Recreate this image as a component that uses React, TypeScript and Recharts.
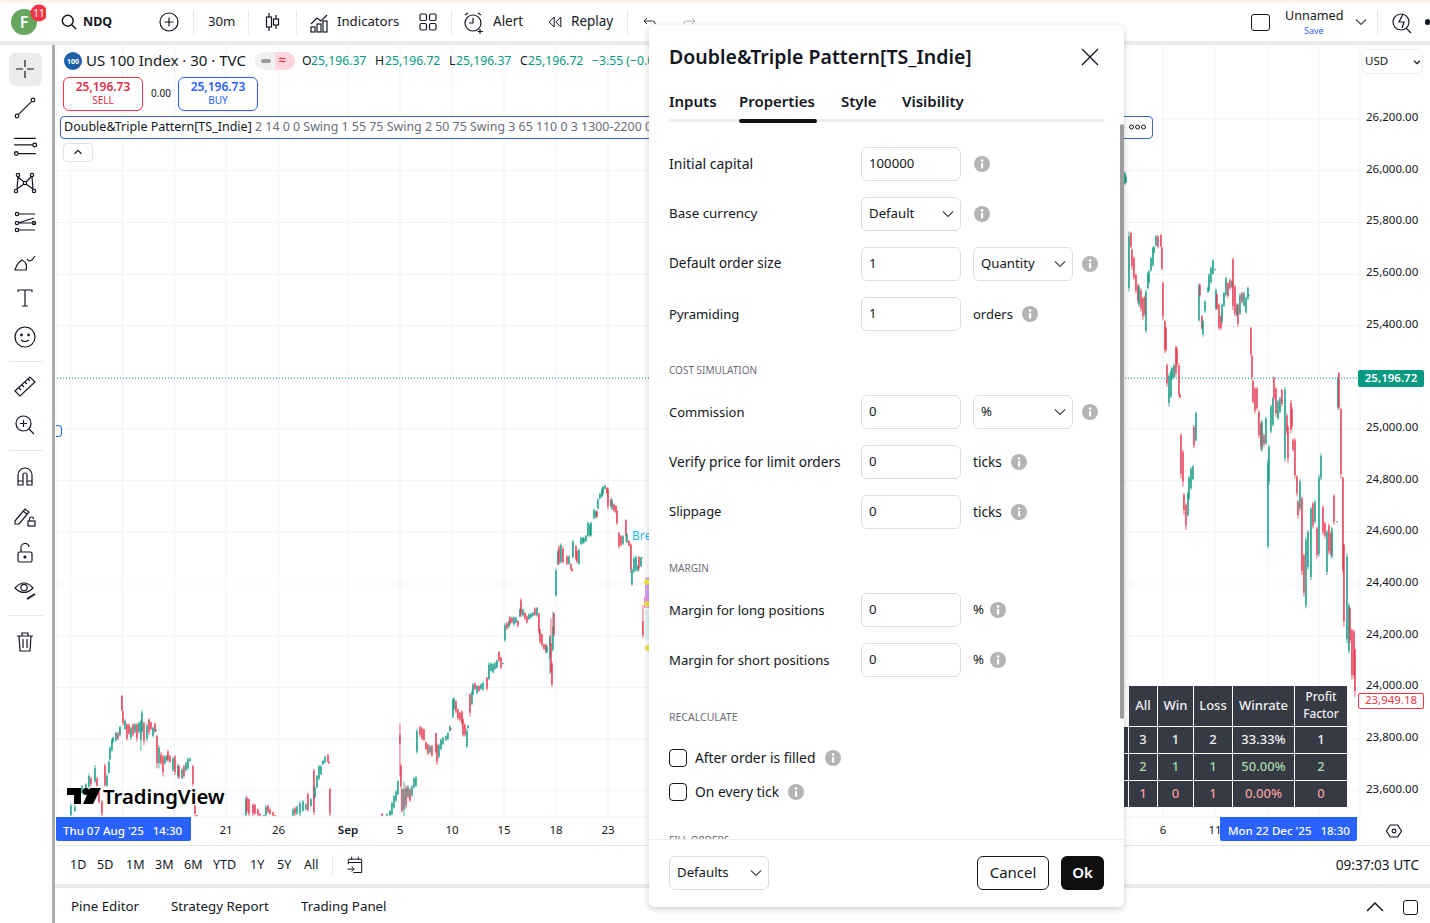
import React from "react";
import {
  ComposedChart,
  Bar,
  XAxis,
  YAxis,
  CartesianGrid,
  ReferenceLine,
  ReferenceArea,
  ReferenceDot,
} from "recharts";

const FONT = '"Noto Sans", sans-serif';
const INK = "#131722";
const UP = "#089981";
const DOWN = "#E8304A";
const BLUE = "#2962FF";

const augustBars = [
  [15,23500,23544,23495,23535],[19,23515,23538,23512,23530],[26,23585,23615,23583,23610],[30,23598,23622,23596,23618],
  [33,23610,23660,23602,23650],[35,23640,23648,23611,23618],[39,23630,23693,23622,23680],[41,23640,23648,23609,23612],
  [43,23585,23590,23544,23550],[46,23550,23557,23495,23505],[49,23690,23699,23609,23615],[51,23612,23660,23609,23650],
  [53,23662,23712,23660,23705],[54,23715,23764,23712,23760],[56,23750,23796,23744,23790],[57,23782,23803,23777,23798],
  [60,23788,23822,23783,23818],[62,23815,23822,23790,23795],[64,23808,23844,23803,23840],[66,23960,23964,23899,23905],
  [67,23900,23906,23848,23855],[69,23832,23870,23828,23865],[71,23850,23854,23787,23795],[73,23848,23854,23809,23815],
  [75,23800,23841,23790,23835],[77,23850,23854,23803,23810],[79,23820,23854,23815,23850],[81,23850,23854,23783,23795],
  [83,23820,23861,23815,23855],[85,23790,23867,23748,23860],[86,23825,23906,23815,23895],[88,23855,23861,23770,23785],
  [91,23795,23854,23783,23845],[93,23868,23874,23809,23820],[95,23858,23861,23828,23832],[97,23805,23841,23800,23836],
  [99,23852,23857,23818,23822],[100,23824,23831,23822,23830],[101,23805,23809,23680,23700],[103,23700,23770,23680,23760],
  [105,23735,23744,23693,23700],[107,23725,23732,23648,23665],[109,23700,23732,23693,23725],[111,23712,23732,23706,23728],
  [112,23745,23751,23706,23712],[114,23728,23732,23699,23705],[117,23672,23725,23667,23718],[119,23725,23732,23654,23665],
  [122,23650,23699,23641,23690],[123,23688,23693,23637,23645],[126,23642,23680,23637,23675],[128,23688,23693,23641,23650],
  [130,23672,23706,23667,23700],[132,23680,23722,23673,23715],[134,23708,23722,23706,23718],[137,23688,23693,23611,23620],
  [139,23535,23538,23495,23505],[141,23498,23499,23495,23496],
];

const lateAugustBars = [
  [190,23500,23570,23495,23560],[191,23565,23573,23506,23515],[193,23560,23564,23495,23505],[197,23540,23544,23495,23505],
  [199,23538,23542,23499,23505],[202,23520,23525,23495,23500],[204,23504,23506,23495,23497],[208,23496,23499,23495,23498],
  [210,23498,23538,23495,23530],[212,23535,23538,23506,23512],[214,23520,23525,23499,23505],[217,23510,23512,23495,23498],
  [219,23498,23499,23495,23496],[237,23497,23525,23495,23520],[239,23525,23531,23495,23505],[241,23505,23538,23499,23530],
  [244,23505,23551,23495,23545],[247,23516,23557,23512,23552],[250,23520,23544,23518,23540],[252,23580,23586,23512,23520],
  [255,23535,23564,23531,23560],[258,23670,23677,23499,23510],[259,23568,23609,23564,23604],[261,23606,23654,23602,23650],
  [263,23640,23693,23635,23688],[265,23658,23693,23654,23686],[267,23695,23712,23693,23708],[269,23702,23728,23699,23724],
  [272,23732,23735,23702,23706],[273,23705,23706,23697,23699],[274,23600,23605,23495,23505],
];

const septemberBars = [
  [326,23505,23505,23495,23497],[331,23497,23505,23495,23503],[334,23497,23518,23495,23515],[336,23502,23550,23499,23545],
  [338,23528,23576,23524,23572],[340,23555,23595,23550,23590],[342,23580,23634,23576,23630],[344,23810,23854,23650,23775],
  [345,23690,23698,23602,23610],[346,23600,23602,23508,23515],[348,23520,23628,23495,23600],[350,23605,23615,23524,23535],
  [352,23568,23615,23563,23608],[354,23598,23602,23550,23555],[356,23575,23615,23570,23610],[358,23606,23647,23602,23640],
  [360,23612,23650,23608,23645],[361,23745,23834,23737,23825],[364,23838,23845,23802,23810],[366,23835,23841,23789,23795],
  [368,23830,23834,23783,23790],[370,23780,23783,23750,23755],[372,23772,23776,23731,23738],[374,23742,23770,23737,23765],
  [376,23765,23770,23724,23730],[380,23815,23819,23737,23745],[381,23770,23776,23692,23705],[383,23725,23776,23718,23768],
  [385,23755,23795,23750,23790],[387,23775,23802,23770,23798],[390,23790,23808,23786,23805],[392,23794,23821,23789,23816],
  [394,23825,23847,23821,23842],[395,23835,23836,23833,23834],[397,23880,23950,23873,23945],[398,23910,23957,23905,23950],
  [400,23940,23944,23892,23900],[402,23908,23912,23866,23875],[404,23895,23899,23860,23868],[406,23900,23905,23847,23855],
  [407,23870,23873,23802,23810],[409,23848,23854,23802,23810],[411,23765,23834,23757,23825],[412,23836,23847,23834,23845],
  [414,23965,23970,23880,23895],[416,23930,23980,23925,23975],[417,23968,24011,23963,24005],[419,24008,24012,23983,23988],
  [421,23972,24002,23967,23998],[423,23998,24002,23976,23980],[425,23988,24008,23983,24004],[427,23985,24015,23980,24010],
  [431,24030,24034,23980,23988],[433,24026,24090,24021,24082],[435,24058,24090,24054,24085],[437,24052,24086,24047,24082],
  [439,24065,24092,24060,24088],[441,24070,24101,24067,24097],[443,24130,24134,24092,24098],[445,24108,24112,24063,24070],
  [447,24086,24088,24084,24087],
];

const midSeptemberBars = [
  [449,24175,24243,24170,24235],[451,24240,24247,24215,24222],[453,24228,24254,24222,24248],[454,24265,24269,24234,24240],
  [456,24262,24267,24241,24246],[458,24238,24269,24231,24264],[460,24245,24267,24241,24262],[462,24250,24254,24225,24232],
  [464,24268,24299,24264,24295],[465,24330,24338,24267,24275],[467,24272,24299,24267,24295],[469,24282,24286,24254,24260],
  [471,24268,24273,24241,24246],[473,24258,24280,24254,24275],[475,24264,24282,24260,24278],[477,24270,24286,24267,24282],
  [479,24298,24303,24269,24275],[481,24272,24305,24267,24300],[483,24278,24283,24202,24210],[484,24218,24221,24163,24170],
  [486,24198,24202,24150,24158],[488,24160,24163,24138,24142],[490,24158,24163,24125,24132],[491,24130,24157,24125,24150],
  [494,24105,24196,24047,24190],[495,24165,24260,24047,24055],[496,24085,24092,23996,24005],[497,24140,24286,24131,24230],
  [498,24278,24283,24189,24200],[500,24350,24454,24344,24445],[502,24470,24525,24467,24520],[503,24535,24544,24467,24475],
  [505,24478,24551,24473,24545],[507,24530,24538,24473,24480],[511,24500,24505,24467,24472],[513,24472,24505,24467,24500],
  [515,24470,24473,24447,24452],[516,24452,24454,24441,24444],[517,24498,24564,24493,24558],[520,24540,24544,24486,24492],
  [521,24520,24525,24473,24480],[523,24472,24531,24467,24525],[525,24548,24577,24544,24572],[527,24552,24577,24548,24572],
  [528,24555,24574,24551,24570],[530,24560,24583,24557,24580],[532,24580,24635,24574,24630],[534,24582,24628,24577,24622],
  [535,24582,24635,24577,24630],[538,24648,24686,24644,24680],[540,24652,24680,24648,24675],[541,24674,24677,24651,24655],
  [542,24686,24725,24682,24720],[544,24724,24747,24721,24744],[546,24732,24764,24729,24760],[547,24742,24773,24738,24770],
  [549,24762,24777,24760,24775],[551,24765,24768,24742,24745],[552,24760,24768,24682,24695],[555,24720,24725,24690,24695],
  [556,24685,24725,24680,24718],[558,24702,24706,24673,24678],[560,24696,24699,24667,24672],[561,24676,24680,24622,24630],
  [563,24590,24596,24531,24540],[565,24578,24583,24538,24545],[567,24550,24583,24544,24578],[570,24640,24644,24557,24580],
  [571,24555,24589,24551,24585],[573,24560,24564,24538,24542],[575,24546,24551,24435,24450],[576,24392,24454,24387,24448],
  [578,24442,24499,24435,24492],[580,24448,24503,24441,24498],[582,24445,24467,24441,24463],[583,24498,24502,24447,24455],
  [585,24462,24499,24458,24495],[586,24496,24498,24495,24497],[587,24250,24312,24183,24195],
];

const novemberBars = [
  [1069,25945,25990,25938,25985],[1070,25950,25977,25945,25970],[1073,25540,25758,25526,25740],[1075,25752,25758,25693,25700],
  [1076,25688,25693,25609,25625],[1078,25655,25661,25571,25580],[1080,25590,25596,25519,25530],[1082,25550,25557,25480,25490],
  [1083,25475,25551,25467,25545],[1085,25530,25538,25448,25460],[1087,25500,25506,25416,25430],[1089,25505,25512,25429,25440],
  [1090,25375,25532,25364,25525],[1092,25540,25603,25532,25595],[1093,25562,25609,25557,25604],[1095,25608,25661,25603,25655],
  [1097,25628,25700,25622,25694],[1098,25678,25702,25674,25698],[1100,25705,25745,25700,25740],[1102,25740,25745,25693,25700],
  [1105,25745,25749,25697,25702],[1106,25696,25700,25609,25615],[1107,25560,25564,25416,25430],[1109,25410,25416,25287,25300],
  [1110,25385,25390,25293,25300],[1111,25240,25248,25157,25170],[1113,25095,25209,25080,25200],[1115,25120,25222,25112,25215],
  [1116,25190,25235,25183,25230],[1118,25195,25248,25190,25240],[1120,25310,25315,25196,25210],[1121,25305,25312,25235,25245],
  [1123,25240,25248,25119,25130],[1124,25128,25132,25112,25116],[1125,24970,24977,24803,24820],[1127,24905,24912,24770,24790],
  [1128,24740,24745,24661,24680],[1130,24700,24706,24603,24620],[1132,24660,24751,24654,24745],[1133,24725,24812,24719,24805],
  [1135,24765,24848,24757,24840],[1137,24800,24854,24796,24848],[1138,25000,25009,24919,24930],[1140,24950,25061,24945,25055],
];

const decemberBars = [
  [1143,25415,25557,25409,25550],[1144,25550,25557,25506,25512],[1146,25430,25435,25377,25385],[1147,25360,25416,25351,25410],
  [1149,25450,25493,25442,25486],[1152,25525,25545,25521,25540],[1153,25530,25597,25526,25590],[1155,25562,25622,25557,25616],
  [1157,25595,25652,25590,25646],[1159,25612,25614,25610,25613],[1160,25460,25538,25454,25530],[1161,25515,25519,25454,25460],
  [1163,25475,25480,25377,25385],[1165,25430,25435,25377,25385],[1166,25410,25480,25403,25475],[1168,25472,25525,25467,25520],
  [1170,25512,25583,25506,25578],[1172,25558,25564,25500,25510],[1174,25570,25577,25532,25540],[1176,25543,25571,25538,25566],
  [1177,25650,25658,25454,25470],[1179,25545,25551,25429,25440],[1181,25434,25480,25429,25475],[1182,25475,25480,25390,25400],
  [1184,25440,25519,25435,25512],[1186,25520,25525,25480,25486],[1188,25472,25525,25467,25518],[1190,25446,25506,25441,25500],
  [1192,25498,25545,25493,25540],[1193,25512,25514,25510,25513],[1195,25385,25390,25274,25285],[1196,25275,25280,25183,25195],
  [1197,25180,25183,25093,25100],[1199,25150,25157,25054,25065],[1201,25150,25157,25067,25075],[1203,25060,25067,24958,24970],
  [1205,25015,25022,24912,24925],[1206,24915,25029,24906,25020],[1208,24970,24977,24925,24935],[1210,24938,25041,24932,25035],
  [1212,24540,24876,24531,24865],[1213,24790,24932,24777,24925],[1215,24985,25087,24977,25080],[1217,25010,25119,25003,25112],
  [1218,25190,25196,25106,25115],[1220,25150,25157,25041,25055],[1222,25035,25106,25029,25100],[1224,25060,25119,25054,25112],
  [1226,25145,25151,25080,25090],[1229,24880,25157,24867,25145],[1231,25045,25054,24970,24985],[1232,25000,25009,24861,24880],
  [1235,25095,25106,24977,24990],[1236,25070,25080,24996,25005],[1237,24950,24958,24906,24915],[1239,24950,24958,24803,24815],
  [1241,24810,24815,24732,24745],[1242,24712,24719,24648,24660],[1244,24685,24799,24674,24790],[1246,24725,24732,24428,24445],
  [1248,24505,24512,24344,24360],[1250,24310,24577,24299,24565],[1252,24460,24603,24448,24595],[1255,24420,24693,24409,24685],
  [1257,24705,24712,24609,24620],[1259,24635,24719,24628,24710],[1261,24608,24615,24493,24505],[1263,24510,24816,24499,24805],
  [1265,24805,24899,24796,24890],[1267,24690,24699,24583,24595],[1269,24628,24635,24570,24580],[1271,24440,24603,24428,24595],
  [1273,24620,24628,24506,24520],[1275,24590,24596,24499,24510],[1276,24500,24615,24493,24608],[1278,24735,24741,24622,24635],
  [1281,24635,24637,24633,24636],[1282,25080,25196,25069,25190],[1283,25210,25215,25067,25075],[1285,25070,25074,24803,24820],
  [1287,24805,24809,24435,24450],[1288,24545,24551,24228,24250],[1291,24180,24512,24164,24500],[1293,24135,24319,24125,24310],
  [1294,24300,24306,24164,24175],[1296,24215,24222,24022,24040],[1298,24210,24215,24028,24040],[1299,24140,24144,23957,23980],
];

// readings were taken against the label centres, which sit a little above their gridlines
const READING_SHIFT = 6.6;

const priceTicks = [26200, 26000, 25800, 25600, 25400, 25200, 25000, 24800, 24600, 24400, 24200, 24000, 23800, 23600];
const priceTickLabels = ["26,200.00", "26,000.00", "25,800.00", "25,600.00", "25,400.00", "", "25,000.00", "24,800.00", "24,600.00", "24,400.00", "24,200.00", "24,000.00", "23,800.00", "23,600.00"];
const timeTickBars = [14.5, 66.5, 118.5, 170, 222.5, 292, 344, 396, 448, 500, 552, 1107, 1159, 1212, 1263];
const timeTickLabels = ["", "", "", "21", "26", "Sep", "5", "10", "15", "18", "23", "6", "11", "", ""];
const lastPrice = 25196.72;
const bidPrice = 23949.18;

const statHeaders = ["All", "Win", "Loss", "Winrate", "Profit Factor"];
const statsAll = ["3", "1", "2", "33.33%", "1"];
const statsLong = ["2", "1", "1", "50.00%", "2"];
const statsShort = ["1", "0", "1", "0.00%", "0"];

const rangeLabels = ["1D", "5D", "1M", "3M", "6M", "YTD", "1Y", "5Y", "All"];

const candles = [...augustBars, ...lateAugustBars, ...septemberBars, ...midSeptemberBars, ...novemberBars, ...decemberBars].map(
  ([bar, open, high, low, close]) => ({
    bar,
    open: open + READING_SHIFT,
    high: high + READING_SHIFT,
    low: low + READING_SHIFT,
    close: close + READING_SHIFT,
  })
);

function CandleShape(props: any) {
  const { x, y, width, height, payload } = props;
  const { open, high, low, close } = payload;
  const toY = (v: number) => y + ((high - v) / (high - low)) * height;
  const color = close >= open ? UP : DOWN;
  const cx = x + width / 2;
  const top = Math.min(toY(open), toY(close));
  const bodyH = Math.max(1, Math.abs(toY(open) - toY(close)));
  return (
    <g opacity={0.9}>
      <rect x={cx - 0.4} y={y} width={0.8} height={height} fill={color} />
      <rect x={cx - 0.7} y={top} width={1.4} height={bodyH} fill={color} />
    </g>
  );
}

function PriceTick({ x, y, payload }: any) {
  const i = priceTicks.indexOf(payload.value);
  return (
    <text x={x - 2} y={y + 2} fontFamily={FONT} fontSize={11.5} fill={INK}>
      {priceTickLabels[i]}
    </text>
  );
}

function TimeTick({ x, y, payload }: any) {
  const label = timeTickLabels[timeTickBars.indexOf(payload.value)];
  return (
    <text x={x} y={y + 9} textAnchor="middle" fontFamily={FONT} fontSize={11.5} fontWeight={label === "Sep" ? 600 : 400} fill={INK}>
      {label}
    </text>
  );
}

function PriceChart() {
  return (
    <ComposedChart
      width={1430}
      height={845}
      data={candles}
      margin={{ top: 44, right: 0, bottom: 0, left: 56 }}
      barSize={2}
      style={{ position: "absolute", left: 0, top: 0 }}
    >
      <CartesianGrid stroke="#f0f3fa" />
      <XAxis
        dataKey="bar"
        type="number"
        domain={[0, 1304]}
        ticks={timeTickBars}
        interval={0}
        height={28}
        axisLine={false}
        tickLine={false}
        tick={<TimeTick />}
      />
      <YAxis
        orientation="right"
        domain={[23498, 26491]}
        ticks={priceTicks}
        interval={0}
        width={70}
        allowDataOverflow
        axisLine={false}
        tickLine={false}
        tick={<PriceTick />}
      />
      <ReferenceLine y={lastPrice} stroke={UP} strokeWidth={1.2} strokeDasharray="1 2" />
      <Bar dataKey={(d: any) => [d.low, d.high]} shape={<CandleShape />} isAnimationActive={false} />
      <ReferenceArea x1={589} x2={594} y1={24350} y2={24425} fill="#c58af0" fillOpacity={0.8} stroke="none" />
      <ReferenceArea x1={588} x2={594} y1={24308} y2={24350} fill="#d020d8" stroke="none" />
      <ReferenceArea x1={589} x2={594} y1={24185} y2={24300} fill="#bdecef" stroke="none" />
      <ReferenceDot x={591} y={24408} r={3} fill="#f5e14a" stroke="none" />
      <ReferenceDot x={591} y={24323} r={3} fill="#f5e14a" stroke="none" />
      <ReferenceDot x={592} y={24152} r={3} fill="#f5e14a" stroke="none" />
    </ComposedChart>
  );
}

type TextProps = { x: number; y: number; size?: number; color?: string; weight?: number; children: React.ReactNode; right?: boolean; center?: boolean };

// y is the vertical centre of the line
function T({ x, y, size = 13, color = INK, weight = 400, children, right, center }: TextProps) {
  const lineH = Math.round(size * 1.1);
  return (
    <span
      style={{
        position: "absolute",
        left: right || center ? undefined : x,
        right: right ? 1430 - x : undefined,
        ...(center ? { left: x, transform: "translateX(-50%)" } : {}),
        top: Math.floor(y - lineH / 2),
        height: lineH,
        lineHeight: `${lineH}px`,
        fontFamily: FONT,
        fontSize: size,
        fontWeight: weight,
        color,
        whiteSpace: "nowrap",
      }}
    >
      {children}
    </span>
  );
}

function Box({ x, y, w, h, style }: { x: number; y: number; w: number; h: number; style?: React.CSSProperties }) {
  return <div style={{ position: "absolute", left: x, top: y, width: w, height: h, boxSizing: "border-box", ...style }} />;
}

function Icon({ x, y, s = 24, children, stroke = INK }: { x: number; y: number; s?: number; children: React.ReactNode; stroke?: string }) {
  return (
    <svg
      width={s}
      height={s}
      viewBox="0 0 24 24"
      fill="none"
      stroke={stroke}
      strokeWidth={1.2}
      style={{ position: "absolute", left: x - s / 2, top: y - s / 2 }}
    >
      {children}
    </svg>
  );
}

function Chevron({ x, y, color = "#444" }: { x: number; y: number; color?: string }) {
  return (
    <svg width={12} height={8} style={{ position: "absolute", left: x - 6, top: y - 4 }}>
      <path d="M1 1.5 L6 6.5 L11 1.5" fill="none" stroke={color} strokeWidth={1.1} />
    </svg>
  );
}

function Info({ x, y }: { x: number; y: number }) {
  return (
    <svg width={16} height={16} style={{ position: "absolute", left: x - 8, top: y - 8 }}>
      <circle cx={8} cy={8} r={8} fill="#b4b4b6" />
      <rect x={7} y={7} width={2.2} height={5.5} fill="#fff" />
      <circle cx={8.1} cy={4.6} r={1.3} fill="#fff" />
    </svg>
  );
}

function Field({ x, y, w = 100, text, chevron }: { x: number; y: number; w?: number; text: string; chevron?: boolean }) {
  return (
    <>
      <Box x={x} y={y - 17} w={w} h={34} style={{ border: "1px solid #dcdde0", borderRadius: 6, background: "#fff" }} />
      <T x={x + 8} y={y} size={13.2}>{text}</T>
      {chevron && <Chevron x={x + w - 13} y={y} />}
    </>
  );
}

function Vsep({ x, y = 10, h = 24 }: { x: number; y?: number; h?: number }) {
  return <Box x={x} y={y} w={1} h={h} style={{ background: "#e6e7ea" }} />;
}

function TopBar() {
  return (
    <>
      <Box x={0} y={0} w={1430} h={3} style={{ background: "#fdf3e3" }} />
      <svg width={36} height={36} style={{ position: "absolute", left: 10, top: 4 }}>
        <circle cx={14} cy={18} r={13} fill="#66a65e" />
        <text x={14} y={24} textAnchor="middle" fontFamily={FONT} fontSize={16} fontWeight={600} fill="#fff">F</text>
        <circle cx={29} cy={9} r={8.5} fill="#f23645" />
        <text x={29} y={13} textAnchor="middle" fontFamily={FONT} fontSize={10} fill="#fff">11</text>
      </svg>
      <Icon x={69} y={22} s={20}><circle cx={10.5} cy={10.5} r={6.5} strokeWidth={1.8} /><path d="M15 15 L20.5 20.5" strokeWidth={1.8} /></Icon>
      <T x={83} y={22} size={12.5} weight={700}>NDQ</T>
      <Icon x={169} y={22}><circle cx={12} cy={12} r={9} /><path d="M12 7.5V16.5M7.5 12H16.5" /></Icon>
      <Vsep x={193} />
      <T x={208} y={22} size={13.2}>30m</T>
      <Vsep x={248} />
      <Icon x={272} y={22}><path d="M9 3V21M16 5V19" /><rect x={6.5} y={7} width={5} height={10} fill="#fff" /><rect x={13.5} y={9} width={5} height={6} fill="#fff" /></Icon>
      <Vsep x={296} />
      <Icon x={319} y={22}><path d="M4 14L10 8L14 11L20 5" /><rect x={4} y={17} width={4} height={5} /><rect x={10} y={14} width={4} height={8} /><rect x={16} y={11} width={4} height={11} /></Icon>
      <T x={337} y={22} size={13.2}>Indicators</T>
      <Icon x={428} y={22}><rect x={4} y={4} width={6.5} height={6.5} rx={1.5} /><rect x={13.5} y={4} width={6.5} height={6.5} rx={1.5} /><rect x={4} y={13.5} width={6.5} height={6.5} rx={1.5} /><rect x={13.5} y={13.5} width={6.5} height={6.5} rx={1.5} /></Icon>
      <Vsep x={451} />
      <Icon x={474} y={22}><circle cx={11} cy={13} r={8} /><path d="M11 8V13H7M3 5L6 3M16 3L19 5M18 19V24M15.5 21.5H21" /></Icon>
      <T x={493} y={22} size={13.5}>Alert</T>
      <Icon x={555} y={22} s={20}><path d="M11 6L5 12L11 18ZM19 6L13 12L19 18Z" /></Icon>
      <T x={571} y={22} size={13.5}>Replay</T>
      <Vsep x={627} />
      <Icon x={650} y={21} s={18}><path d="M8 8L4 12L8 16M4 12H15Q19 12 19 16" /></Icon>
      <Icon x={689} y={21} s={18} stroke="#aaa"><path d="M16 8L20 12L16 16M20 12H9Q5 12 5 16" /></Icon>
      <Box x={1251} y={14} w={19} h={17} style={{ border: `1.2px solid ${INK}`, borderRadius: 3 }} />
      <T x={1285} y={16} size={12.6}>Unnamed</T>
      <T x={1304} y={31} size={9} color={BLUE}>Save</T>
      <Chevron x={1361} y={22} />
      <Vsep x={1377} />
      <Icon x={1402} y={22}><circle cx={11} cy={12} r={8} /><path d="M13 4L9 12H14L12 18M16 18L21 23" /></Icon>
      <Box x={1425} y={19} w={5} h={6} style={{ background: INK, borderRadius: 3 }} />
      <Box x={0} y={41} w={1430} h={4} style={{ background: "#ebebec" }} />
    </>
  );
}

function LeftBar() {
  return (
    <>
      <Box x={0} y={45} w={52} h={840} style={{ background: "#fff" }} />
      <Box x={52} y={45} w={3} h={878} style={{ background: "#ababad" }} />
      <Box x={9} y={53} w={33} h={33} style={{ background: "#ececed", borderRadius: 6 }} />
      <Icon x={25} y={69}><path d="M12 3V10M12 14V21M3 12H10M14 12H21" /></Icon>
      <Icon x={25} y={108}><circle cx={4} cy={20} r={1.8} /><circle cx={20} cy={4} r={1.8} /><path d="M5.3 18.7L18.7 5.3" /></Icon>
      <Icon x={25} y={146} s={26}><path d="M2 5H22M2 11H19M6 19H22" /><circle cx={21} cy={11} r={1.7} /><circle cx={4} cy={19} r={1.7} /></Icon>
      <Icon x={25} y={183}><circle cx={5} cy={4} r={1.7} /><circle cx={19} cy={4} r={1.7} /><circle cx={3} cy={20} r={1.7} /><circle cx={21} cy={20} r={1.7} /><circle cx={12} cy={12} r={1.7} /><path d="M5 6L11 11M18 6L13 11M4 18L11 13M20 18L13 13M4 18L5 6M20 18L19 6" /></Icon>
      <Icon x={25} y={222}><path d="M5 4H22M5 13H22M5 20H22M5 13L21 8" /><circle cx={4} cy={4} r={1.7} /><circle cx={4} cy={13} r={1.7} /><circle cx={4} cy={20} r={1.7} /><circle cx={21} cy={13} r={1.7} /></Icon>
      <Icon x={25} y={261}><path d="M2 21H13Q15 14 9 11Q4 14 2 21ZM14 10Q17 15 22 7" /></Icon>
      <Icon x={25} y={298}><path d="M5 6V4H19V6M12 4V20M9 20H15" /></Icon>
      <Icon x={25} y={337}><circle cx={12} cy={12} r={10} /><circle cx={8.5} cy={10} r={0.8} /><circle cx={15.5} cy={10} r={0.8} /><path d="M8 15Q12 18 16 15" /></Icon>
      <Box x={9} y={361} w={34} h={1} style={{ background: "#e6e7ea" }} />
      <Icon x={25} y={386}><path d="M2 17L17 3L22 8L7 22ZM6 14L8 16M9 11L11 13M12 8L14 10M15 5L17 7" /></Icon>
      <Icon x={25} y={425}><circle cx={10.5} cy={10.5} r={7.5} /><path d="M16 16L21 21M10.5 7V14M7 10.5H14" /></Icon>
      <Box x={9} y={450} w={34} h={1} style={{ background: "#e6e7ea" }} />
      <Icon x={25} y={476}><path d="M5 21V11A7 7 0 0 1 19 11V21H14V11A2 2 0 0 0 10 11V21ZM5 17H10M14 17H19" /></Icon>
      <Icon x={25} y={516}><path d="M2 17L12 5L16 8L6 20L2 20ZM10 7L14 10" /><rect x={15} y={17} width={7} height={5} /><path d="M16.5 17V15A2 2 0 0 1 20.5 15" /></Icon>
      <Icon x={25} y={553}><rect x={5} y={11} width={14} height={10} rx={1.5} /><path d="M8 11V7A4 4 0 0 1 16 6" /><circle cx={12} cy={16} r={1} fill={INK} /></Icon>
      <Icon x={25} y={590}><path d="M2 10Q11 0 20 10Q11 19 2 10Z" /><circle cx={11} cy={9.5} r={3.2} /><path d="M14 21L22 16" strokeWidth={2} /></Icon>
      <Box x={9} y={615} w={34} h={1} style={{ background: "#e6e7ea" }} />
      <Icon x={25} y={642}><path d="M4 6H20M9 6V3H15V6M6 6L7 21H17L18 6M10 9V18M14 9V18" /></Icon>
    </>
  );
}

function ChartOverlay() {
  return (
    <>
      <svg width={26} height={26} style={{ position: "absolute", left: 60, top: 48 }}>
        <circle cx={13} cy={13} r={9} fill="#1c5fa8" />
        <text x={13} y={15.5} textAnchor="middle" fontFamily={FONT} fontSize={7} fill="#fff" fontWeight={700}>100</text>
      </svg>
      <T x={86} y={61} size={15}>US 100 Index · 30 · TVC</T>
      <Box x={255} y={52} w={40} h={18} style={{ background: "#f0f0f1", borderRadius: 9 }} />
      <Box x={275} y={52} w={20} h={18} style={{ background: "#fbd6de", borderRadius: "0 9px 9px 0" }} />
      <Box x={261} y={59} w={10} h={4} style={{ background: "#9a9ca2", borderRadius: 2 }} />
      <T x={279} y={60} size={12} color="#e0304a" weight={700}>≈</T>
      <T x={302} y={61} size={12.2}>O</T>
      <T x={311} y={61} size={12.2} color={UP}>25,196.37</T>
      <T x={375} y={61} size={12.2}>H</T>
      <T x={385} y={61} size={12.2} color={UP}>25,196.72</T>
      <T x={449} y={61} size={12.2}>L</T>
      <T x={456} y={61} size={12.2} color={UP}>25,196.37</T>
      <T x={520} y={61} size={12.2}>C</T>
      <T x={528} y={61} size={12.2} color={UP}>25,196.72</T>
      <T x={592} y={61} size={12.2} color={UP}>−3.55 (−0.01%)</T>

      <Box x={63} y={77} w={80} h={34} style={{ border: "1px solid #f23645", borderRadius: 6, background: "#fff" }} />
      <T x={103} y={87} size={12} color="#e0304a" weight={600} center>25,196.73</T>
      <T x={103} y={101} size={10} color="#e0304a" center>SELL</T>
      <T x={161} y={94} size={10} center>0.00</T>
      <Box x={178} y={77} w={80} h={34} style={{ border: `1px solid ${BLUE}`, borderRadius: 6, background: "#fff" }} />
      <T x={218} y={87} size={12} color={BLUE} weight={600} center>25,196.73</T>
      <T x={218} y={101} size={10} color={BLUE} center>BUY</T>

      <Box x={60} y={116} w={600} h={23} style={{ border: `1px solid #3a68c8`, borderRadius: 4, background: "#fff" }} />
      <T x={64} y={127} size={12.5}>Double&amp;Triple Pattern[TS_Indie]</T>
      <T x={255} y={127} size={12.4} color="#6a6d78">2 14 0 0 Swing 1 55 75 Swing 2 50 75 Swing 3 65 110 0 3 1300-2200 0</T>
      <Box x={1120} y={116} w={33} h={23} style={{ border: `1px solid #3a68c8`, borderRadius: 4, background: "#fff" }} />
      <svg width={20} height={8} style={{ position: "absolute", left: 1129, top: 123 }}>
        {[2.5, 8.5, 14.5].map((cx) => <circle key={cx} cx={cx} cy={4} r={2} fill="none" stroke={INK} />)}
      </svg>
      <Box x={63} y={143} w={30} h={19} style={{ border: "1px solid #e0e1e4", borderRadius: 4, background: "#fff" }} />
      <Icon x={78} y={152} s={14}><path d="M6 15L12 9L18 15" strokeWidth={2} /></Icon>

      <Box x={56} y={425} w={6} h={12} style={{ border: `1.5px solid ${BLUE}`, borderLeft: "none", borderRadius: "0 4px 4px 0" }} />
      <T x={632} y={536} size={12} color="#29b6f6">Bre</T>

      <svg width={34} height={18} style={{ position: "absolute", left: 67, top: 787 }}>
        <path d="M0 1H14V17H7V8H0ZM23 1H34L26 17H16Z" fill="#000" />
        <circle cx={19} cy={4.5} r={3.6} fill="#000" />
      </svg>
      <T x={103} y={796} size={20.3} weight={600} color="#000">TradingView</T>

      <Box x={1358} y={370} w={66} h={17} style={{ background: UP, borderRadius: 2 }} />
      <T x={1391} y={378} size={11.5} color="#fff" weight={600} center>25,196.72</T>
      <Box x={1358} y={693} w={66} h={16} style={{ background: "#fff", border: "1px solid #f23645", borderRadius: 2 }} />
      <T x={1391} y={700} size={11.5} color="#f23645" center>{bidPrice.toLocaleString("en-US")}</T>

      <Box x={1362} y={49} w={61} h={25} style={{ background: "#fff", border: "1px solid #edeef0", borderRadius: 5 }} />
      <T x={1365} y={61} size={11.5}>USD</T>
      <Icon x={1417} y={62} s={10}><path d="M5 9L12 16L19 9" strokeWidth={3} /></Icon>

      <Box x={56} y={817} w={135} h={24} style={{ background: BLUE, borderRadius: "0 0 2px 2px" }} />
      <T x={63} y={831} size={11.5} color="#fff" weight={500}>Thu 07 Aug '25&nbsp;&nbsp;&nbsp;14:30</T>
      <Box x={1220} y={817} w={137} h={24} style={{ background: BLUE, borderRadius: "0 0 2px 2px" }} />
      <T x={1228} y={831} size={11.5} color="#fff" weight={500}>Mon 22 Dec '25&nbsp;&nbsp;&nbsp;18:30</T>
      <Icon x={1394} y={831} s={18}><path d="M7 4H17L22 12L17 20H7L2 12Z" strokeWidth={1.6} /><circle cx={12} cy={12} r={2.5} strokeWidth={1.6} /></Icon>
    </>
  );
}

function StatsTable() {
  const cols = [
    { x: 1129, w: 28 },
    { x: 1158, w: 35 },
    { x: 1194, w: 38 },
    { x: 1233, w: 61 },
    { x: 1295, w: 52 },
  ];
  const rows = [
    { y: 727, h: 26, vals: statsAll, color: "#f0f0f0" },
    { y: 754, h: 26, vals: statsLong, color: "#a5d6a7" },
    { y: 781, h: 26, vals: statsShort, color: "#ef9a9a" },
  ];
  return (
    <>
      {cols.map((c, i) => (
        <React.Fragment key={i}>
          <Box x={c.x} y={686} w={c.w} h={40} style={{ background: "#363a45" }} />
          {i < 4 ? (
            <T x={c.x + c.w / 2} y={705} size={13} color="#f0f0f0" weight={500} center>{statHeaders[i]}</T>
          ) : (
            <>
              <T x={c.x + c.w / 2} y={697} size={11.8} color="#f0f0f0" weight={500} center>Profit</T>
              <T x={c.x + c.w / 2} y={714} size={11.8} color="#f0f0f0" weight={500} center>Factor</T>
            </>
          )}
        </React.Fragment>
      ))}
      {rows.map((r) => (
        <React.Fragment key={r.y}>
          <Box x={1124} y={r.y} w={4} h={r.h} style={{ background: "#363a45" }} />
          {cols.map((c, i) => (
            <React.Fragment key={i}>
              <Box x={c.x} y={r.y} w={c.w} h={r.h} style={{ background: "#363a45" }} />
              <T x={c.x + c.w / 2} y={r.y + 12} size={13} color={r.color} weight={500} center>{r.vals[i]}</T>
            </React.Fragment>
          ))}
        </React.Fragment>
      ))}
    </>
  );
}

function BottomBars() {
  const rangeX = [70, 97, 126, 155, 184, 213, 250, 277, 304];
  return (
    <>
      <Box x={55} y={845} w={1375} h={1} style={{ background: "#e6e7ea" }} />
      {rangeLabels.map((r, i) => <T key={r} x={rangeX[i]} y={865} size={12.5}>{r}</T>)}
      <Vsep x={332} y={855} h={20} />
      <Icon x={355} y={865} s={20}><path d="M4 11V5H20V21H10M4 9H20M8 2V6M16 2V6M3 17H11M8 14L11 17L8 20" /></Icon>
      <T x={1419} y={865} size={13.6} right>09:37:03 UTC</T>
      <Box x={55} y={884} w={1375} h={4} style={{ background: "#ebebec" }} />
      <T x={71} y={907} size={13.3}>Pine Editor</T>
      <T x={171} y={907} size={13.3}>Strategy Report</T>
      <T x={301} y={907} size={13.3}>Trading Panel</T>
      <Icon x={1375} y={907}><path d="M4 16L12 8L20 16" strokeWidth={1.5} /></Icon>
      <Box x={1403} y={900} w={15} h={15} style={{ border: `1.2px solid ${INK}`, borderRadius: 3 }} />
    </>
  );
}

function Dialog() {
  return (
    <>
      <Box x={649} y={25} w={475} h={882} style={{ background: "#fff", borderRadius: 6, boxShadow: "0 2px 6px rgba(0,0,0,0.2)" }} />
      <T x={669} y={57} size={19.5} weight={600}>Double&amp;Triple Pattern[TS_Indie]</T>
      <Icon x={1090} y={57}><path d="M4 4L20 20M20 4L4 20" strokeWidth={1.3} /></Icon>
      <T x={669} y={102} size={15} weight={600}>Inputs</T>
      <T x={739} y={102} size={15} weight={600}>Properties</T>
      <T x={841} y={102} size={15} weight={600}>Style</T>
      <T x={902} y={102} size={15} weight={600}>Visibility</T>
      <Box x={669} y={119} w={436} h={3} style={{ background: "#eeeeef" }} />
      <Box x={739} y={119} w={78} h={4} style={{ background: "#111", borderRadius: 2 }} />
      <Box x={1120} y={124} w={4} h={595} style={{ background: "#9d9d9f", borderRadius: 2 }} />

      <T x={669} y={164} size={14}>Initial capital</T>
      <Field x={861} y={164} text="100000" />
      <Info x={982} y={164} />
      <T x={669} y={214} size={13.4}>Base currency</T>
      <Field x={861} y={214} text="Default" chevron />
      <Info x={982} y={214} />
      <T x={669} y={264} size={13.5}>Default order size</T>
      <Field x={861} y={264} text="1" />
      <Field x={973} y={264} text="Quantity" chevron />
      <Info x={1090} y={264} />
      <T x={669} y={314} size={13.1}>Pyramiding</T>
      <Field x={861} y={314} text="1" />
      <T x={973} y={314} size={13}>orders</T>
      <Info x={1030} y={314} />

      <T x={669} y={371} size={10} color="#6a6d78">COST SIMULATION</T>
      <T x={669} y={412} size={13}>Commission</T>
      <Field x={861} y={412} text="0" />
      <Field x={973} y={412} text="%" chevron />
      <Info x={1090} y={412} />
      <T x={669} y={462} size={13.7}>Verify price for limit orders</T>
      <Field x={861} y={462} text="0" />
      <T x={973} y={462} size={13.7}>ticks</T>
      <Info x={1019} y={462} />
      <T x={669} y={511} size={13}>Slippage</T>
      <Field x={861} y={512} text="0" />
      <T x={973} y={512} size={13.7}>ticks</T>
      <Info x={1019} y={512} />

      <T x={669} y={569} size={10} color="#6a6d78">MARGIN</T>
      <T x={669} y={610} size={13.1}>Margin for long positions</T>
      <Field x={861} y={610} text="0" />
      <T x={973} y={610} size={13.2}>%</T>
      <Info x={998} y={610} />
      <T x={669} y={660} size={13.1}>Margin for short positions</T>
      <Field x={861} y={660} text="0" />
      <T x={973} y={660} size={13.2}>%</T>
      <Info x={998} y={660} />

      <T x={669} y={717} size={10.5} color="#6a6d78">RECALCULATE</T>
      <Box x={669} y={749} w={18} h={18} style={{ border: `1px solid ${INK}`, borderRadius: 4 }} />
      <T x={695} y={758} size={13.8}>After order is filled</T>
      <Info x={833} y={758} />
      <Box x={669} y={783} w={18} h={18} style={{ border: `1px solid ${INK}`, borderRadius: 4 }} />
      <T x={695} y={792} size={13.8}>On every tick</T>
      <Info x={796} y={792} />
      <T x={669} y={841} size={10} color="#6a6d78">FILL ORDERS</T>

      <Box x={649} y={839} w={475} h={68} style={{ background: "#fff", borderTop: "1px solid #eeeeef", borderRadius: "0 0 6px 6px" }} />
      <Field x={669} y={873} text="Defaults" chevron />
      <Box x={977} y={856} w={72} h={34} style={{ border: `1px solid ${INK}`, borderRadius: 6 }} />
      <T x={1013} y={873} size={15} center>Cancel</T>
      <Box x={1061} y={856} w={43} h={34} style={{ background: "#0f0f0f", borderRadius: 6 }} />
      <T x={1082.5} y={873} size={15} color="#fff" weight={600} center>Ok</T>
    </>
  );
}

export default function App() {
  return (
    <div style={{ position: "fixed", left: 0, top: 0, width: 1430, height: 923, background: "#fff", overflow: "hidden" }}>
      <PriceChart />
      <TopBar />
      <LeftBar />
      <ChartOverlay />
      <StatsTable />
      <BottomBars />
      <Dialog />
    </div>
  );
}
